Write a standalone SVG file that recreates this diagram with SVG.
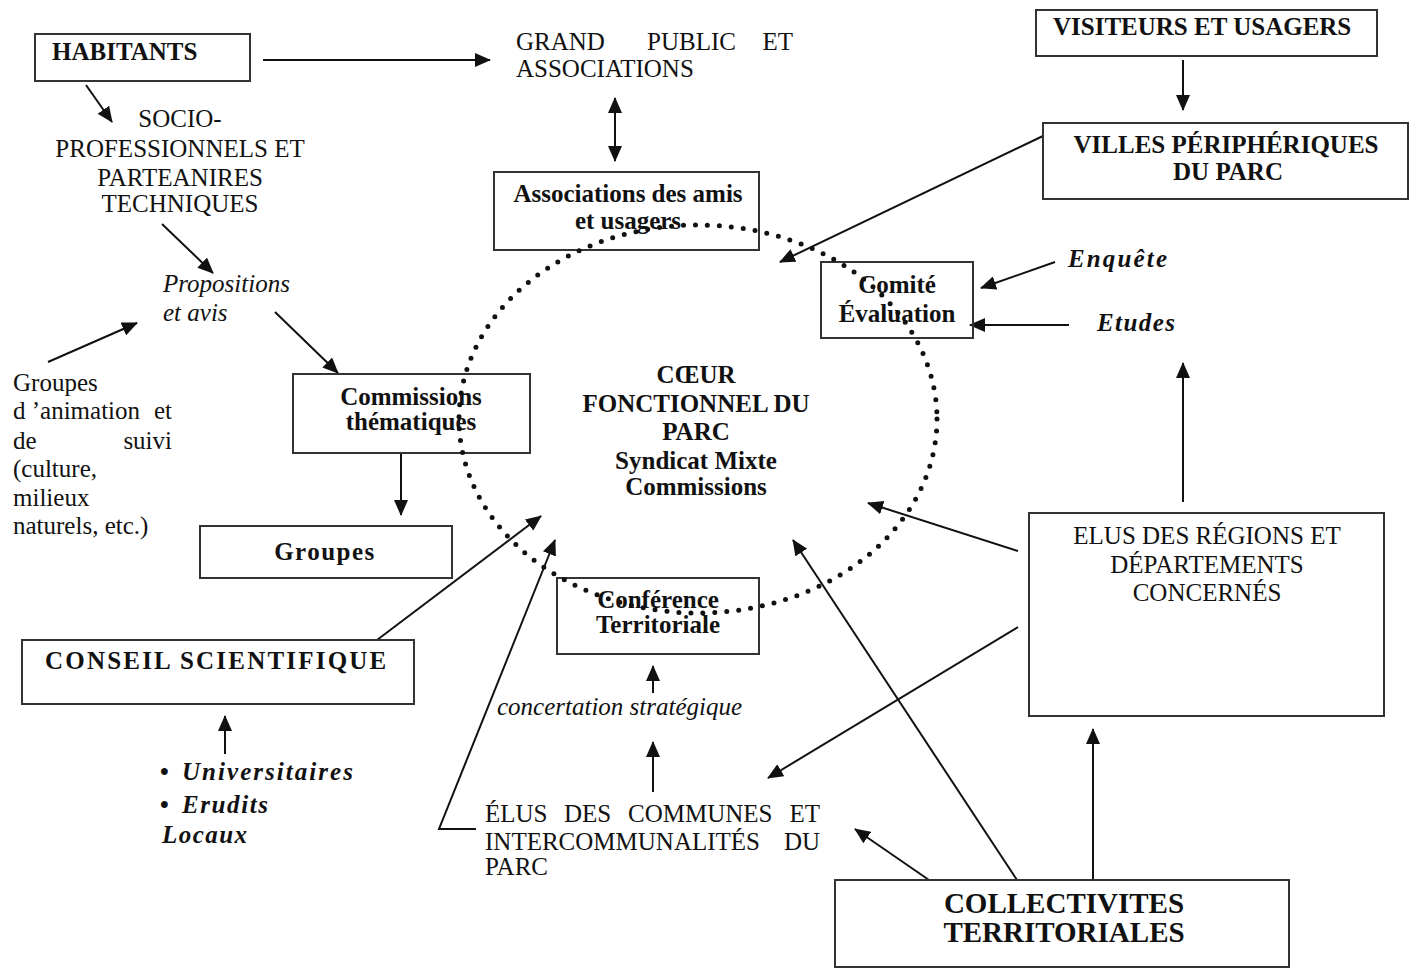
<svg xmlns="http://www.w3.org/2000/svg" width="1417" height="972" viewBox="0 0 1417 972">
<style>
text{font-family:"Liberation Serif","Times New Roman",serif;fill:#111;font-size:25px}
.b{font-weight:bold}
.i{font-style:italic}
.bi{font-weight:bold;font-style:italic}
.m{text-anchor:middle}
.e{text-anchor:end}
.box{fill:none;stroke:#333;stroke-width:2}
.c{fill:none;stroke:#111;stroke-width:2;marker-end:url(#ah)}
.dots{fill:none;stroke:#111;stroke-width:5;stroke-linecap:round;stroke-dasharray:0 12}
</style>
<defs>
<marker id="ah" viewBox="0 0 16 14" refX="15" refY="7" markerWidth="16" markerHeight="14" markerUnits="userSpaceOnUse" orient="auto-start-reverse">
<path d="M0,0 L16,7 L0,14 z" fill="#111"/>
</marker>
</defs>
<rect width="1417" height="972" fill="#fff"/>
<g id="connectors">
<line class="c" x1="263" y1="60" x2="490" y2="60"/>
<line class="c" x1="86" y1="85" x2="112" y2="122"/>
<line class="c" x1="162" y1="224" x2="213" y2="273"/>
<line class="c" x1="48" y1="362" x2="137" y2="323"/>
<line class="c" x1="275" y1="312" x2="338" y2="373"/>
<line class="c" x1="401" y1="453" x2="401" y2="515"/>
<line class="c" x1="377" y1="640" x2="541" y2="516"/>
<line class="c" x1="225" y1="754" x2="225" y2="716"/>
<polyline class="c" points="476,829 439,829 555,540"/>
<line class="c" x1="653" y1="693" x2="653" y2="666"/>
<line class="c" x1="653" y1="792" x2="653" y2="742"/>
<line class="c" x1="1183" y1="60" x2="1183" y2="110"/>
<line class="c" x1="1043" y1="136" x2="780" y2="262"/>
<line class="c" x1="1055" y1="262" x2="981" y2="288"/>
<line class="c" x1="1069" y1="325" x2="970" y2="325"/>
<line class="c" x1="1183" y1="502" x2="1183" y2="363"/>
<line class="c" x1="1018" y1="551" x2="868" y2="503"/>
<line class="c" x1="1018" y1="627" x2="768" y2="778"/>
<line class="c" x1="1017" y1="880" x2="793" y2="540"/>
<line class="c" x1="929" y1="880" x2="855" y2="829"/>
<line class="c" x1="1093" y1="880" x2="1093" y2="729"/>
<line class="c" x1="615" y1="98" x2="615" y2="161" style="marker-start:url(#ah)"/>
</g>
<g id="habitants">
<rect class="box" x="35" y="34" width="215" height="47"/>
<text class="b" x="52" y="60">HABITANTS</text>
</g>
<g id="grand-public">
<text x="516" y="50">GRAND</text>
<text x="647" y="50">PUBLIC</text>
<text class="e" x="793" y="50">ET</text>
<text x="516" y="77">ASSOCIATIONS</text>
</g>
<g id="visiteurs">
<rect class="box" x="1036" y="10" width="341" height="46"/>
<text class="b" x="1053" y="35">VISITEURS ET USAGERS</text>
</g>
<g id="villes">
<rect class="box" x="1043" y="123" width="365" height="76"/>
<text class="b m" x="1226" y="153">VILLES PÉRIPHÉRIQUES</text>
<text class="b m" x="1228" y="180">DU PARC</text>
</g>
<g id="socio">
<text class="m" x="180" y="127">SOCIO-</text>
<text class="m" x="180" y="157">PROFESSIONNELS ET</text>
<text class="m" x="180" y="186">PARTEANIRES</text>
<text class="m" x="180" y="212">TECHNIQUES</text>
</g>
<g id="propositions">
<text class="i" x="163" y="292">Propositions</text>
<text class="i" x="163" y="321">et avis</text>
</g>
<g id="groupes-animation">
<text x="13" y="391">Groupes</text>
<text x="13" y="419">d ’animation</text>
<text class="e" x="172" y="419">et</text>
<text x="13" y="449">de</text>
<text class="e" x="172" y="449">suivi</text>
<text x="13" y="477">(culture,</text>
<text x="13" y="506">milieux</text>
<text x="13" y="534">naturels, etc.)</text>
</g>
<g id="associations">
<rect class="box" x="494" y="172" width="265" height="78"/>
<text class="b m" x="628" y="202">Associations des amis</text>
<text class="b m" x="628" y="229">et usagers</text>
</g>
<g id="comite">
<rect class="box" x="821" y="262" width="152" height="76"/>
<text class="b m" x="897" y="293">Comité</text>
<text class="b m" x="897" y="322">Évaluation</text>
</g>
<g id="enquete">
<text class="bi" x="1068" y="267" textLength="99" lengthAdjust="spacing">Enquête</text>
</g>
<g id="etudes">
<text class="bi" x="1097" y="331" textLength="78" lengthAdjust="spacing">Etudes</text>
</g>
<g id="commissions">
<rect class="box" x="293" y="374" width="237" height="79"/>
<text class="b m" x="411" y="405">Commissions</text>
<text class="b m" x="411" y="430">thématiques</text>
</g>
<g id="groupes">
<rect class="box" x="200" y="526" width="252" height="52"/>
<text class="b m" x="325" y="560" style="letter-spacing:1.5px">Groupes</text>
</g>
<g id="conseil">
<rect class="box" x="22" y="640" width="392" height="64"/>
<text class="b" x="45" y="669" style="letter-spacing:2.2px">CONSEIL SCIENTIFIQUE</text>
</g>
<g id="universitaires">
<text class="b" x="160" y="780">•</text>
<text class="bi" x="182" y="780" textLength="171" lengthAdjust="spacing">Universitaires</text>
<text class="b" x="160" y="813">•</text>
<text class="bi" x="182" y="813" textLength="86" lengthAdjust="spacing">Erudits</text>
<text class="bi" x="162" y="843" textLength="85" lengthAdjust="spacing">Locaux</text>
</g>
<g id="conference">
<rect class="box" x="557" y="578" width="202" height="76"/>
<text class="b m" x="658" y="608">Conférence</text>
<text class="b m" x="658" y="633">Territoriale</text>
</g>
<g id="concertation">
<text class="i" x="497" y="715">concertation stratégique</text>
</g>
<g id="elus-communes">
<text x="485" y="822">ÉLUS</text>
<text x="564" y="822">DES</text>
<text x="628" y="822">COMMUNES</text>
<text class="e" x="820" y="822">ET</text>
<text x="485" y="850">INTERCOMMUNALITÉS</text>
<text class="e" x="820" y="850">DU</text>
<text x="485" y="875">PARC</text>
</g>
<g id="elus-regions">
<rect class="box" x="1029" y="513" width="355" height="203"/>
<text class="m" x="1207" y="544">ELUS DES RÉGIONS ET</text>
<text class="m" x="1207" y="573">DÉPARTEMENTS</text>
<text class="m" x="1207" y="601">CONCERNÉS</text>
</g>
<g id="collectivites">
<rect class="box" x="835" y="880" width="454" height="87"/>
<text class="b m" x="1064" y="913" style="font-size:29px">COLLECTIVITES</text>
<text class="b m" x="1064" y="942" style="font-size:29px">TERRITORIALES</text>
</g>
<g id="coeur">
<text class="b m" x="696" y="383">CŒUR</text>
<text class="b m" x="696" y="412">FONCTIONNEL DU</text>
<text class="b m" x="696" y="440">PARC</text>
<text class="b m" x="696" y="469">Syndicat Mixte</text>
<text class="b m" x="696" y="495">Commissions</text>
<ellipse class="dots" cx="698" cy="419" rx="239" ry="194"/>
</g>
</svg>
